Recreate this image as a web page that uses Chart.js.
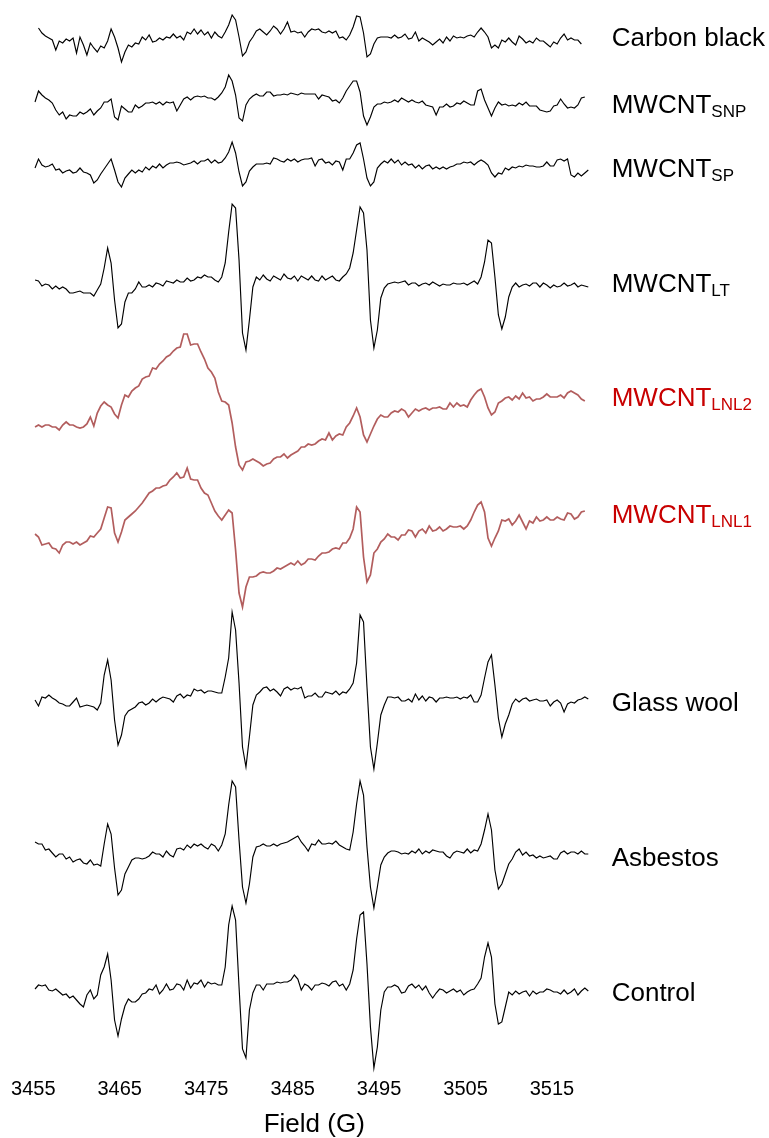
<!DOCTYPE html>
<html>
<head>
<meta charset="utf-8">
<script src="https://cdn.jsdelivr.net/npm/chart.js@4.4.1/dist/chart.umd.min.js"></script>
<style>
  html, body { margin: 0; padding: 0; background: #ffffff; }
  #wrap { width: 769px; height: 1138px; }
</style>
</head>
<body>
<div id="wrap"><canvas id="c" width="769" height="1138"></canvas></div>
<script>
// ---- Field axis (G): sampled every 0.4 G from 3455.2 G ----
const FIELD_START = 3455.2;
const FIELD_STEP = 0.4;
const N_POINTS = 161;
const field = [];
for (let i = 0; i < N_POINTS; i++) field.push(+(FIELD_START + FIELD_STEP * i).toFixed(1));

const tickValues = [3455, 3465, 3475, 3485, 3495, 3505, 3515];

// ---- sample names (top to bottom) ----
const seriesNames = ['Carbon black', 'MWCNT', 'MWCNT', 'MWCNT', 'MWCNT', 'MWCNT', 'Glass wool', 'Asbestos', 'Control'];
const seriesSubs  = ['', 'SNP', 'SP', 'LT', 'LNL2', 'LNL1', '', '', ''];

// ---- vertical offsets of each stacked spectrum (same arbitrary units as signals) ----
const offsets = [40, 105, 168, 284, 426, 541, 700, 857, 992];

// ---- EPR signals (arbitrary units, positive up) ----
const carbonBlack = [
null,12,7,4,2,0,-10,-1,-3,1,
-1,2,-13,3,-5,-15,-3,-8,-12,-6,
-8,-1,11,3,-8,-22,-12,-5,-7,-3,
-4,3,0,5,-2,-1,2,0,3,2,
6,2,4,0,8,6,11,6,10,5,
8,2,8,4,2,8,15,25,20,3,
-16,-12,-2,3,9,11,8,5,9,14,
11,6,11,18,8,9,7,8,3,8,
11,10,11,8,7,9,7,9,2,3,
0,5,13,24,23,7,-17,-14,-4,2,
3,3,3,2,5,2,3,6,1,2,
8,-1,2,0,-2,-5,-2,1,-3,3,
-1,4,2,3,2,4,5,3,8,12,
8,3,-8,-5,-8,0,-2,2,-2,-5,
4,1,-3,-1,-3,2,-1,-1,-4,-7,
-2,-4,2,6,0,2,0,0,-4,null,
null];

const mwcntSNP = [
3,14,10,7,5,2,-5,-10,-7,-14,
-10,-11,-11,-7,-9,-7,-4,-10,-6,-3,
3,3,6,-12,-15,-1,-4,-7,-7,0,
-3,-1,2,2,3,1,3,0,3,2,
3,-6,0,6,8,5,8,9,8,9,
7,7,5,8,12,18,30,24,10,-13,
-16,0,6,9,11,9,9,13,13,9,
10,10,11,10,12,11,10,12,11,11,
11,11,6,10,9,8,4,5,2,7,
14,19,24,24,13,-11,-20,-12,-2,1,
1,3,2,3,5,3,7,5,3,5,
3,2,4,0,-1,-2,-10,-2,-2,1,
-2,-1,2,1,4,2,0,0,14,16,
5,-3,-11,-3,3,0,1,-1,0,-1,
2,0,3,-1,-1,-1,-5,-6,-7,-6,
-1,0,6,1,-3,-2,-3,0,7,8,
null];

const mwcntSP = [
0,9,3,1,2,4,-2,-1,-5,-3,
-2,-5,-4,0,-4,-5,-7,-15,-12,-6,
-1,4,9,-2,-14,-19,-10,-6,-2,-5,
-2,-4,1,-2,2,0,4,0,3,5,
5,6,5,3,4,5,7,4,7,7,
9,5,8,5,6,10,16,26,15,-4,
-18,-14,-3,1,4,4,4,5,4,10,
9,7,6,9,7,9,6,8,9,9,
10,2,8,9,5,6,3,7,6,-2,
9,9,15,23,25,9,-10,-18,-14,0,
4,7,5,9,5,8,3,6,3,4,
0,3,-1,2,3,-1,1,-1,1,-1,
1,2,4,4,6,5,6,3,6,8,
6,3,-5,-9,-5,-6,0,-2,1,0,
2,1,3,2,2,1,1,2,6,2,
2,8,9,7,9,-7,-9,-5,-8,-5,
-2];

const mwcntLT = [
4,3,-2,0,-1,-5,-2,-5,-3,-5,
-9,-9,-8,-7,-9,-9,-9,-12,-6,0,
16,36,21,-16,-44,-40,-18,-9,-9,-5,
2,-3,-3,-1,-3,1,0,-2,3,2,
1,4,2,2,6,3,4,7,6,9,
7,7,4,2,7,21,52,80,76,24,
-49,-66,-36,-3,7,4,9,5,3,8,
6,4,10,6,5,8,3,8,6,4,
8,4,3,8,4,6,8,4,3,7,
10,16,31,54,77,71,34,-36,-64,-46,
-14,-4,0,1,2,1,2,3,-1,1,
1,-2,0,1,-1,2,0,-2,0,-1,
-1,1,0,0,1,-1,1,3,0,7,
22,44,41,7,-31,-45,-33,-13,-3,1,
-3,-1,0,-2,1,1,-3,1,-1,-4,
-1,-3,-2,1,-2,-1,1,-3,-1,-2,
-3];

const mwcntLNL2 = [
-1,1,-1,1,1,-1,-1,-4,1,4,
1,1,-1,-2,-1,2,9,0,13,20,
24,21,19,12,8,21,31,29,35,38,
40,47,49,50,58,57,62,65,69,71,
75,78,79,92,92,81,82,82,74,67,
58,54,48,34,25,24,21,3,-21,-39,
-44,-36,-35,-33,-35,-37,-40,-38,-37,-33,
-31,-31,-28,-32,-29,-27,-25,-21,-21,-18,
-19,-18,-15,-13,-14,-7,-14,-10,-8,-9,
-1,3,10,18,9,-9,-16,-8,0,7,
11,9,9,13,15,14,17,15,9,13,
17,15,17,18,16,18,18,19,17,17,
23,19,23,20,21,19,26,31,35,37,
29,18,11,14,23,25,28,29,26,30,
27,33,28,29,25,27,27,29,32,29,
29,29,31,28,33,35,33,31,27,25,
null];

const mwcntLNL1 = [
7,4,-4,-3,-2,-7,-8,-12,-4,-1,
-1,-3,-1,-4,-2,0,5,4,8,12,
23,34,33,8,-1,9,21,24,27,30,
34,38,43,48,50,53,53,55,56,61,
64,68,63,64,73,62,61,61,53,48,
46,38,30,25,21,26,31,28,-9,-52,
-66,-46,-36,-36,-35,-32,-31,-32,-32,-30,
-27,-28,-26,-24,-22,-24,-20,-24,-22,-18,
-18,-19,-15,-12,-12,-11,-8,-7,-8,-2,
-2,3,12,34,29,-16,-41,-34,-12,-8,
-1,2,7,4,4,1,6,6,11,10,
4,10,12,8,15,10,11,14,10,12,
15,14,14,15,12,15,21,29,36,39,
29,3,-5,3,10,21,20,22,16,20,
26,19,12,20,18,24,20,21,24,21,
21,24,22,21,28,27,22,24,29,30,
null];

const glassWool = [
0,-6,3,2,5,2,0,-3,-4,-6,
-6,-2,2,-7,-6,-5,-6,-7,-10,-3,
25,40,20,-20,-45,-35,-16,-11,-9,-7,
-3,-2,-5,-3,1,-2,1,3,2,1,
-2,4,6,2,5,4,11,9,10,7,
9,9,8,7,7,23,42,88,70,17,
-47,-67,-37,-5,5,8,12,13,9,11,
8,4,11,13,10,12,11,13,2,4,
4,7,3,3,8,7,6,9,5,8,
7,11,17,37,85,78,13,-47,-69,-43,
-15,-5,3,3,2,3,-1,-1,1,-2,
6,0,4,-1,3,2,-2,2,2,3,
2,2,3,1,3,2,5,-2,-2,5,
22,38,45,15,-18,-37,-24,-15,-4,1,
-2,1,2,-1,0,1,-1,-1,0,-6,
-2,0,-3,-12,-4,-2,-3,0,1,3,
1];

const asbestos = [
15,13,13,7,8,4,0,3,3,-2,
0,-5,-3,-2,-6,-7,-3,-8,-7,-9,
13,33,23,-11,-38,-33,-17,-10,-3,-1,
-1,-2,-1,1,5,3,3,0,6,2,
0,8,9,7,12,9,13,11,13,10,
8,13,11,6,12,23,52,76,70,17,
-30,-46,-27,0,10,11,13,11,11,13,
11,13,14,15,17,19,21,15,11,6,
13,12,17,13,13,14,13,16,12,10,
8,7,25,53,76,62,10,-30,-51,-30,
-8,0,4,6,6,5,3,4,3,6,
4,8,3,6,4,7,6,5,5,1,
-1,4,6,5,4,8,4,7,6,13,
27,43,27,-13,-32,-27,-17,-7,-2,5,
8,2,5,1,2,-1,1,-1,0,1,
-2,-2,4,6,3,5,5,3,6,3,
3];

const control = [
3,7,6,7,2,1,3,0,-3,-2,
-6,-4,-8,-12,-15,-3,2,-7,-3,17,
25,38,12,-28,-44,-27,-14,-7,-10,-10,
-7,-2,-1,3,2,7,-2,2,8,2,
3,8,7,2,12,4,9,8,12,5,
10,8,9,7,7,25,67,86,72,5,
-57,-66,-18,-1,7,7,2,8,8,8,
10,9,10,10,12,17,13,2,8,6,
2,7,7,9,8,6,10,11,6,8,
2,8,22,53,77,80,28,-35,-76,-55,
-18,0,5,5,7,5,-1,0,6,8,
4,7,2,6,-1,-6,-1,3,2,-1,
1,3,0,2,-3,0,2,3,8,14,
35,49,35,-12,-32,-30,-15,0,-3,1,
-2,0,1,-4,1,-2,0,0,3,2,
0,0,-2,2,-2,0,3,-3,1,4,
1];

const signals = [carbonBlack, mwcntSNP, mwcntSP, mwcntLT, mwcntLNL2, mwcntLNL1, glassWool, asbestos, control];

// ---- styling ----
const lineColors  = ['#000','#000','#000','#000','rgba(165,65,65,0.85)','rgba(165,65,65,0.85)','#000','#000','#000'];
const lineWidths  = [1.15,1.15,1.15,1.15,1.7,1.7,1.15,1.15,1.15];
const labelColors = ['#000','#000','#000','#000','#c80000','#c80000','#000','#000','#000'];
const labelLevels = [37, 104, 168, 283, 397, 514, 702, 857, 992];
const FONT = '"Liberation Sans", Arial, Helvetica, sans-serif';

const datasets = signals.map((vals, k) => ({
  label: seriesNames[k] + seriesSubs[k],
  data: field.map((x, j) => ({ x: x, y: vals[j] == null ? null : vals[j] - offsets[k] })),
  borderColor: lineColors[k],
  borderWidth: lineWidths[k],
  pointRadius: 0,
  tension: 0,
  spanGaps: false,
  clip: false,
  fill: false
}));

const labelPlugin = {
  id: 'seriesLabels',
  afterDatasetsDraw(chart) {
    const { ctx, chartArea, scales } = chart;
    const y = scales.y;
    ctx.save();
    ctx.textAlign = 'left';
    ctx.textBaseline = 'alphabetic';
    seriesNames.forEach((name, k) => {
      const yc = y.getPixelForValue(-labelLevels[k]);
      const base = yc + 0.358 * 26;
      const x0 = chartArea.right + 16.5;
      ctx.fillStyle = labelColors[k];
      ctx.font = '26px ' + FONT;
      ctx.fillText(name, x0, base);
      if (seriesSubs[k]) {
        const w = ctx.measureText(name).width;
        ctx.font = '17px ' + FONT;
        ctx.fillText(seriesSubs[k], x0 + w, base + 4);
      }
    });
    ctx.restore();
  }
};

new Chart(document.getElementById('c'), {
  type: 'line',
  data: { datasets: datasets },
  options: {
    responsive: false,
    animation: false,
    devicePixelRatio: 1,
    layout: { padding: { left: 33.3, right: 173.8, top: 0, bottom: 0 } },
    plugins: { legend: { display: false }, tooltip: { enabled: false } },
    scales: {
      x: {
        type: 'linear',
        min: 3455,
        max: 3520,
        grid: { display: false, drawTicks: false },
        border: { display: false },
        afterBuildTicks: (axis) => { axis.ticks = tickValues.map(v => ({ value: v })); },
        ticks: {
          padding: 8,
          color: '#000',
          font: { family: FONT, size: 20 },
          maxRotation: 0,
          autoSkip: false,
          callback: (v) => String(v)
        },
        title: {
          display: true,
          text: 'Field (G)',
          color: '#000',
          font: { family: FONT, size: 26, lineHeight: 1.0 },
          padding: { top: 3, bottom: 0 }
        }
      },
      y: {
        display: false,
        min: -1069,
        max: 0
      }
    }
  },
  plugins: [labelPlugin]
});
</script>
</body>
</html>
